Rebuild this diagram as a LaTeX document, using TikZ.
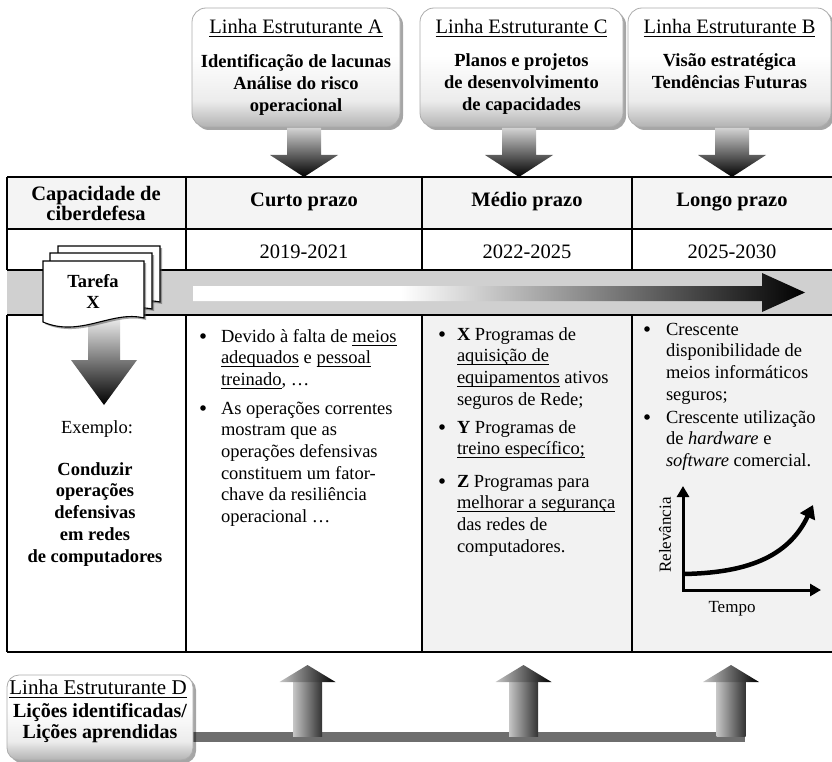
\documentclass[tikz,border=0pt]{standalone}
\usepackage{fontspec}
\setmainfont{Liberation Serif}
\usetikzlibrary{shadows,arrows.meta}
\newcommand\myul[1]{\setbox0\hbox{#1}\rlap{\rule[-3.4pt]{\wd0}{0.9pt}}\box0\relax}
\pgfdeclareverticalshading{boxfade}{100bp}{color(0bp)=(gray!60); color(25bp)=(gray!60); color(36bp)=(gray!15); color(55bp)=(white); color(100bp)=(white)}
\pgfdeclarehorizontalshading{bandfade}{100bp}{color(0bp)=(white); color(25bp)=(white); color(42bp)=(white); color(75bp)=(black); color(100bp)=(black)}
\newcommand\bigDownArrow[1]{%
  \shade[top color=gray!35, bottom color=black]
    ({#1-17},128) -- ({#1+17},128) -- ({#1+17},155) -- ({#1+34},155) -- (#1,177)
    -- ({#1-34},155) -- ({#1-17},155) -- cycle;}
\newcommand\bigUpArrow[1]{%
  \shade[left color=gray!45, right color=black!80]
    ({#1-14.5},736) rectangle ({#1+14.5},681);
  \shade[left color=gray!45, right color=black]
    ({#1-28},682) -- (#1,665) -- ({#1+28},682) -- cycle;}
\begin{document}
\begin{tikzpicture}[x=1pt,y=-1pt,
  every node/.style={inner sep=0pt, outer sep=0pt},
  topbox/.style={draw=gray!65, line width=0.8pt, rounded corners=14pt, shading=boxfade,
    drop shadow={shadow xshift=3pt, shadow yshift=-3pt, opacity=0.35, fill=black}},
  tline/.style={line width=2pt},
  vline/.style={line width=1.6pt},
  ttl/.style={font=\fontsize{20.5}{24}\selectfont, anchor=base},
  hdr/.style={font=\fontsize{20.5}{19.5}\selectfont\bfseries, align=center, anchor=base},
  yr/.style={font=\fontsize{20.5}{24}\selectfont, anchor=base},
  body/.style={font=\fontsize{18.5}{21.7}\selectfont, align=left, anchor=base west},
  dot/.style={circle, fill=black, minimum size=5.6pt},
  bodyc/.style={font=\fontsize{18.5}{21.7}\selectfont, align=center, anchor=base},
  boldc/.style={font=\fontsize{18.5}{21.8}\selectfont\bfseries, align=center, anchor=base},
  docpage/.style={fill=white, draw=black, line width=1.1pt,
    drop shadow={shadow xshift=2pt, shadow yshift=-2pt, opacity=0.5, fill=black!70}},
  graphaxis/.style={line width=3pt, {Triangle[length=11pt,width=12pt]}-{Triangle[length=11pt,width=12pt]}},
  graphcurve/.style={line width=4.5pt, -{Triangle[length=13pt,width=16pt]}},
]
\useasboundingbox (0,0) rectangle (832,762);
% note: a multi-line node's base anchor is the baseline of its LAST line

% ---------- top boxes ----------
\node[topbox, minimum width=208pt, minimum height=119pt] (boxA) at (296,67.5) {};
\node[topbox, minimum width=203pt, minimum height=119pt] (boxC) at (521.5,67.5) {};
\node[topbox, minimum width=203pt, minimum height=119pt] (boxB) at (729.5,67.5) {};
\node[ttl] (tA) at (296,34) {\myul{Linha Estruturante A}};
\node[ttl] (tC) at (521.5,34) {\myul{Linha Estruturante C}};
\node[ttl] (tB) at (729.5,34) {\myul{Linha Estruturante B}};
\node[boldc] (xA) at (296,111.6) {Identificação de lacunas\\Análise do risco\\operacional};
\node[boldc] (xC) at (521.5,110.6) {Planos e projetos\\de desenvolvimento\\de capacidades};
\node[boldc] (xB) at (729.5,88.8) {Visão estratégica\\Tendências Futuras};

\bigDownArrow{304}
\bigDownArrow{519}
\bigDownArrow{732}

% ---------- table fills ----------
\fill[gray!9] (7,177) rectangle (833,229);
\fill[white] (7,229) rectangle (833,270);
\fill[gray!37] (7,270) rectangle (833,315);
\fill[white] (7,315) rectangle (422,652);
\fill[gray!10] (422,315) rectangle (833,652);

% ---------- table lines ----------
\foreach \yy in {177,229,270,315,652} \draw[tline] (7,\yy) -- (833,\yy);
\foreach \xx in {7,186,422,632} {
  \draw[vline] (\xx,177) -- (\xx,270);
  \draw[vline] (\xx,315) -- (\xx,652);
}

% header texts
\node[hdr] (hcap) at (96,220) {Capacidade de\\ciberdefesa};
\node[hdr] (hc) at (304,206) {Curto prazo};
\node[hdr] (hm) at (527,206) {Médio prazo};
\node[hdr] (hl) at (732,206) {Longo prazo};
\node[yr] (y1) at (304,258) {2019-2021};
\node[yr] (y2) at (527,258) {2022-2025};
\node[yr] (y3) at (732,258) {2025-2030};

% band arrow
\shade[shading=bandfade] (193,286) -- (762,286) -- (762,273) -- (805,292.5) -- (762,312) -- (762,301) -- (193,301) -- cycle;

% Tarefa arrow
\shade[top color=gray!15, bottom color=black]
  (88,318) -- (120,318) -- (120,360) -- (137,360) -- (104,405) -- (71,360) -- (88,360) -- cycle;

% document stack
\path[docpage] (58,246) -- (160,246) -- (160,302) .. controls (128,295) and (96,323) .. (58,309) -- cycle;
\path[docpage] (50,253) -- (152,253) -- (152,309) .. controls (120,302) and (88,330) .. (50,316) -- cycle;
\path[docpage] (43,261) -- (144,261) -- (144,318) .. controls (112,310) and (80,338) .. (43,322) -- cycle;
\node[boldc] (tarefa) at (93,308.8) {Tarefa\\X};

% column 1
\node[bodyc] (ex) at (97,433) {Exemplo:};
\node[boldc] (cond) at (95,562.2) {Conduzir\\operações\\defensivas\\em redes\\de computadores};

% column 2
\node[dot] (b2a) at (203,336) {};
\node[body] (c2a) at (221,385.4) {Devido à falta de \myul{meios}\\\myul{adequados} e \myul{pessoal}\\\myul{treinado}, …};
\node[dot] (b2b) at (203,408) {};
\node[body] (c2b) at (221,522.5) {As operações correntes\\mostram que as\\operações defensivas\\constituem um fator-\\chave da resiliência\\operacional …};

% column 3
\node[dot] (b3a) at (442,334) {};
\node[body] (c3a) at (457,405.1) {\textbf{X} Programas de\\\myul{aquisição de}\\\myul{equipamentos} ativos\\seguros de Rede;};
\node[dot] (b3b) at (442,427) {};
\node[body] (c3b) at (457,454.7) {\textbf{Y} Programas de\\\myul{treino específico;}};
\node[dot] (b3c) at (442,481) {};
\node[body] (c3c) at (457,552.1) {\textbf{Z} Programas para\\\myul{melhorar a segurança}\\das redes de\\computadores.};

% column 4
\node[dot] (b4a) at (647,329) {};
\node[body] (c4a) at (666,400.1) {Crescente\\disponibilidade de\\meios informáticos\\seguros;};
\node[dot] (b4b) at (647,417) {};
\node[body] (c4b) at (666,466.4) {Crescente utilização\\de \textit{hardware} e\\\textit{software} comercial.};

% graph
\coordinate (gy) at (683,486);
\coordinate (go) at (683,590);
\coordinate (gx) at (821,590);
\coordinate (gs) at (683,574);
\coordinate (ge) at (813,505);
\draw[graphaxis] (gy) -- (go) -- (gx);
\draw[graphcurve] (gs) .. controls (745,573) and (788,558) .. (ge);
\node[font=\fontsize{17}{20}\selectfont, rotate=90] (rel) at (665,535) {Relevância};
\node[font=\fontsize{17}{20}\selectfont, anchor=base] (tempo) at (732,612) {Tempo};

% ---------- bottom ----------
\fill[black!57] (193,732) rectangle (745,742);
\bigUpArrow{307.5}
\bigUpArrow{523.5}
\bigUpArrow{731}
\node[topbox, rounded corners=12pt, minimum width=186pt, minimum height=85pt] (boxD) at (100,717.5) {};
\node[font=\fontsize{21}{24}\selectfont, anchor=base] (tD) at (98,694) {\myul{Linha Estruturante D}};
\node[font=\fontsize{20}{21}\selectfont\bfseries, align=center, anchor=base] (xD) at (100,738) {Lições identificadas/\\Lições aprendidas};
\end{tikzpicture}
\end{document}
